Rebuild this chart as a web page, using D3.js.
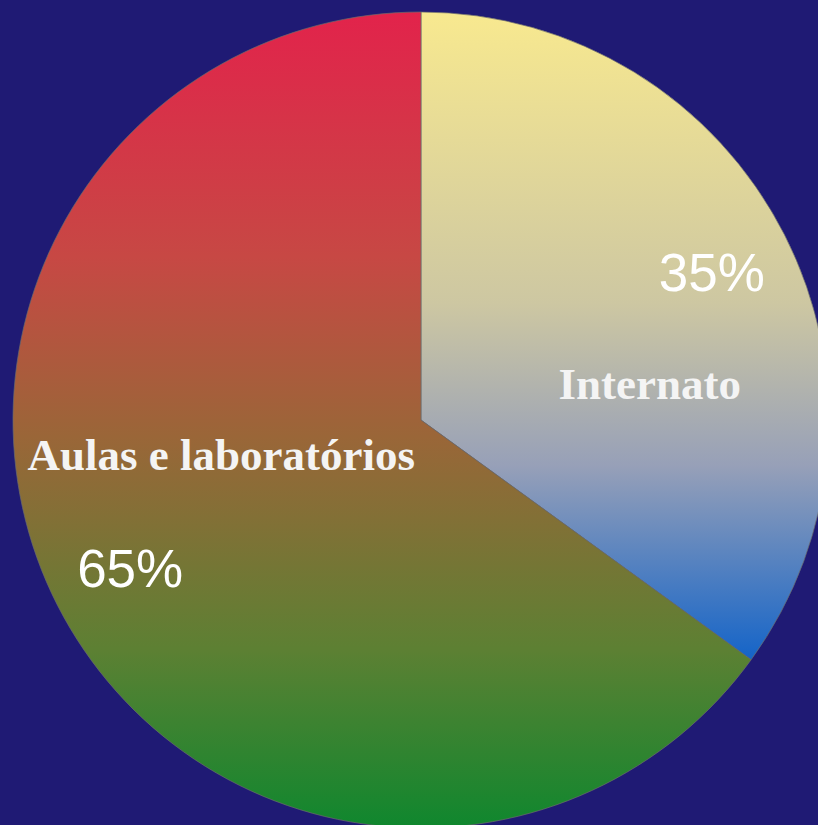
<!DOCTYPE html>
<html>
<head>
<meta charset="utf-8">
<script src="https://cdn.jsdelivr.net/npm/d3@7"></script>
<style>
  html, body { margin: 0; padding: 0; background: #1f1a74; }
  svg { display: block; }
</style>
</head>
<body>
<svg id="chart" width="818" height="825"></svg>
<script>
  // data
  var categories = ["Internato", "Aulas e laboratórios"]
  var values = [35, 65]
  var pctLabels = ["35%", "65%"]

  // gradient stops per slice (top -> bottom)
  var gradStops = [
    [["0%", "#f8e98f"], ["45%", "#cdc7a2"], ["70%", "#97a0b8"], ["100%", "#1464c8"]],
    [["0%", "#e2234b"], ["30%", "#c74844"], ["52%", "#9a6638"], ["78%", "#5d8033"], ["100%", "#0f872e"]]
  ]

  var width = 818, height = 825
  var cx = 421, cy = 420, radius = 408

  var svg = d3.select("#chart")
  svg.append("rect").attr("width", width).attr("height", height).attr("fill", "#1f1a74")

  var defs = svg.append("defs")
  gradStops.forEach(function(stops, i){
    var g = defs.append("linearGradient").attr("id", "grad" + i)
      .attr("x1", 0).attr("y1", 0).attr("x2", 0).attr("y2", 1)
    stops.forEach(function(s){
      g.append("stop").attr("offset", s[0]).attr("stop-color", s[1])
    })
  })

  var pie = d3.pie().sort(null).value(function(d){ return d })
  var arcs = pie(values)

  var arc = d3.arc().innerRadius(0).outerRadius(radius)
  var labelArc = d3.arc().innerRadius(radius * 0.8).outerRadius(radius * 0.8)

  var g = svg.append("g").attr("transform", "translate(" + cx + "," + cy + ")")

  g.selectAll("path.slice").data(arcs).enter().append("path")
    .attr("class", "slice")
    .attr("d", arc)
    .attr("fill", function(d, i){ return "url(#grad" + i + ")" })
    .attr("stroke", "#6b6b6b")
    .attr("stroke-width", 0.7)

  // percentage labels on arc centroid
  g.selectAll("text.pct").data(arcs).enter().append("text")
    .attr("class", "pct")
    .attr("x", function(d){ return labelArc.centroid(d)[0] })
    .attr("y", function(d){ return labelArc.centroid(d)[1] })
    .attr("dy", "0.36em")
    .attr("text-anchor", "middle")
    .attr("fill", "#ffffff")
    .style("font-family", "'Liberation Sans', Arial, sans-serif")
    .style("font-size", "53px")
    .text(function(d, i){ return pctLabels[i] })

  // category names, shifted from the percentage position
  var nameShift = [[-62, 112], [91, -113]]
  g.selectAll("text.name").data(arcs).enter().append("text")
    .attr("class", "name")
    .attr("x", function(d, i){ return labelArc.centroid(d)[0] + nameShift[i][0] })
    .attr("y", function(d, i){ return labelArc.centroid(d)[1] + nameShift[i][1] })
    .attr("dy", "0.34em")
    .attr("text-anchor", "middle")
    .attr("fill", "#f4f4f4")
    .style("font-family", "'Liberation Serif', 'Times New Roman', serif")
    .style("font-weight", "bold")
    .style("font-size", "45px")
    .text(function(d, i){ return categories[i] })
</script>
</body>
</html>
